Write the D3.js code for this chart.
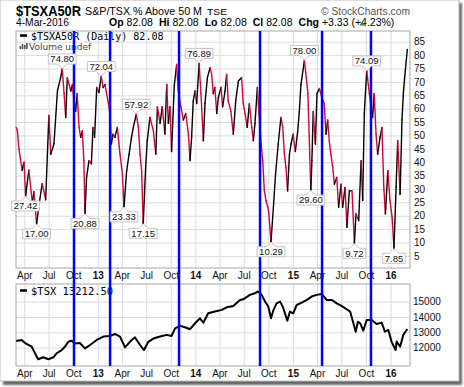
<!DOCTYPE html>
<html>
<head>
<meta charset="utf-8">
<script src="https://cdn.jsdelivr.net/npm/d3@7"></script>
<style>
  body { margin: 0; background: #fff; }
</style>
</head>
<body>
<svg id="chart"></svg>
<script>
// $TSXA50R daily readings (estimated from the chart)
const a50Dates = [
  "2012-03-02","2012-03-06","2012-03-12","2012-03-18","2012-03-24","2012-03-31","2012-04-06","2012-04-18",
  "2012-05-01","2012-05-07","2012-05-17","2012-05-26","2012-06-07","2012-06-20","2012-07-02","2012-07-09",
  "2012-07-21","2012-08-03","2012-08-15","2012-08-21","2012-08-28","2012-09-03","2012-09-09","2012-09-22",
  "2012-09-28","2012-10-04","2012-10-10","2012-10-16","2012-10-23","2012-10-29","2012-11-04","2012-11-10",
  "2012-11-14","2012-11-20","2012-11-29","2012-12-08","2012-12-14","2012-12-20","2012-12-28","2013-01-05",
  "2013-01-14","2013-01-21","2013-01-28","2013-02-03","2013-02-12","2013-02-16","2013-02-21","2013-02-27",
  "2013-03-06","2013-03-15","2013-03-25","2013-04-03","2013-04-09","2013-04-19","2013-04-28","2013-05-07",
  "2013-05-14","2013-05-25","2013-06-02","2013-06-08","2013-06-14","2013-06-20","2013-06-29","2013-07-05",
  "2013-07-15","2013-07-28","2013-08-06","2013-08-12","2013-08-22","2013-08-30","2013-09-09","2013-09-16",
  "2013-09-22","2013-09-28","2013-10-04","2013-10-14","2013-10-23","2013-10-29","2013-11-08","2013-11-17",
  "2013-11-26","2013-12-06","2013-12-12","2013-12-18","2013-12-24","2013-12-31","2014-01-06","2014-01-15",
  "2014-01-22","2014-01-31","2014-02-06","2014-02-15","2014-02-25","2014-03-03","2014-03-09","2014-03-15",
  "2014-03-22","2014-03-28","2014-04-07","2014-04-13","2014-04-22","2014-04-28","2014-05-04","2014-05-14",
  "2014-05-23","2014-06-01","2014-06-11","2014-06-23","2014-06-29","2014-07-06","2014-07-14","2014-07-22",
  "2014-07-31","2014-08-06","2014-08-12","2014-08-21","2014-08-27","2014-09-04","2014-09-10","2014-09-16",
  "2014-09-22","2014-09-29","2014-10-03","2014-10-11","2014-10-20","2014-10-28","2014-11-07","2014-11-17",
  "2014-11-24","2014-11-30","2014-12-06","2014-12-12","2014-12-19","2014-12-25","2015-01-02","2015-01-10",
  "2015-01-19","2015-01-25","2015-01-31","2015-02-13","2015-02-20","2015-02-26","2015-03-09","2015-03-13",
  "2015-03-18","2015-03-26","2015-04-01","2015-04-10","2015-04-19","2015-04-28","2015-05-05","2015-05-11",
  "2015-05-17","2015-05-23","2015-05-30","2015-06-05","2015-06-14","2015-06-21","2015-06-30","2015-07-06",
  "2015-07-15","2015-07-22","2015-07-31","2015-08-10","2015-08-19","2015-08-25","2015-09-04","2015-09-13",
  "2015-09-19","2015-09-25","2015-10-04","2015-10-14","2015-10-26","2015-11-01","2015-11-08","2015-11-14",
  "2015-11-23","2015-11-30","2015-12-07","2015-12-13","2015-12-22","2015-12-30","2016-01-07","2016-01-14",
  "2016-01-22","2016-01-28","2016-02-06","2016-02-13","2016-02-18","2016-02-23","2016-03-04"
];
const a50Values = [
  53, 52, 45, 41, 37, 40, 27.42, 37,
  25, 29, 17.00, 24, 32, 26, 57.5, 43,
  46.8, 66.6, 71.6, 74.80, 65.6, 56.7, 71.6, 66.6,
  69, 62.9, 59, 65.6, 53, 49.3, 51.7, 40.6,
  20.88, 34.3, 40.6, 39.4, 53, 49.3, 67.9, 66,
  72.04, 67.9, 69, 65.6, 60.7, 56.7, 46.8, 50.5,
  49.3, 53, 43, 35.6, 23.33, 36.8, 43, 49.3,
  53, 57.92, 53, 43, 36.8, 17.15, 38, 48,
  56.7, 51.7, 43, 60.7, 54.5, 60.7, 50.5, 69,
  54.5, 60.7, 44, 68.5, 76.5, 66.6, 60.7, 55.8,
  58.2, 50.5, 40.6, 49.3, 62.9, 66.6, 61.9, 76.89,
  65.6, 48, 61.9, 71.6, 75.3, 72.8, 65.6, 67.9,
  58.2, 64.2, 67.9, 60.7, 66.6, 72.8, 62.9, 59,
  50.5, 62.9, 70.3, 71.6, 61.9, 58.2, 53, 61.9,
  53, 48, 54.5, 67.9, 58.2, 46.8, 40.6, 29.5,
  25.7, 23.2, 20.7, 10.29, 23.2, 35.6, 46.8, 56.7,
  53, 43, 38, 29.3, 43, 46.8, 50.5, 44,
  51.7, 59, 69, 78.00, 71.6, 65.6, 29.60, 40.6,
  59, 46.8, 65.6, 67.5, 64.2, 61.9, 50.5, 55.8,
  48, 43, 38, 31.8, 34.3, 23.2, 31.8, 23.2,
  30.6, 15.7, 29.3, 29.3, 9.72, 20.7, 18.2, 40.6,
  25.7, 58.2, 74.09, 65.6, 56.7, 65.6, 50.5, 43,
  49.3, 53, 30.6, 20.7, 36.8, 25.7, 19.5, 7.85,
  30.6, 48, 28, 55.8, 65.6, 71.6, 82.08
];

// $TSX closes (estimated)
const tsxDates = [
  "2012-03-02","2012-03-22","2012-04-04","2012-04-29","2012-05-11","2012-05-23","2012-06-11","2012-06-30",
  "2012-07-19","2012-07-31","2012-08-19","2012-08-31","2012-09-13","2012-09-25","2012-10-08","2012-10-26",
  "2012-11-14","2012-12-03","2012-12-28","2013-01-22","2013-02-16","2013-03-06","2013-03-25","2013-04-13",
  "2013-05-01","2013-05-20","2013-06-08","2013-06-23","2013-07-09","2013-07-28","2013-08-22","2013-09-16",
  "2013-10-04","2013-10-17","2013-11-05","2013-11-23","2013-12-12","2013-12-31","2014-01-18","2014-01-31",
  "2014-02-18","2014-03-15","2014-04-10","2014-04-28","2014-05-23","2014-06-17","2014-06-29","2014-07-24",
  "2014-08-12","2014-08-24","2014-09-06","2014-09-19","2014-10-01","2014-10-11","2014-10-20","2014-11-01",
  "2014-11-14","2014-11-24","2014-12-02","2014-12-11","2014-12-21","2015-01-02","2015-01-15","2015-02-03",
  "2015-02-22","2015-03-12","2015-03-31","2015-04-19","2015-05-07","2015-05-26","2015-06-14","2015-07-02",
  "2015-07-21","2015-08-03","2015-08-24","2015-09-01","2015-09-10","2015-09-21","2015-10-04","2015-10-23",
  "2015-11-10","2015-11-29","2015-12-11","2015-12-24","2016-01-05","2016-01-20","2016-01-24","2016-02-06",
  "2016-02-18","2016-03-04"
];
const tsxValues = [
  12430, 12500, 12300, 12060, 11630, 11240, 11370, 11240,
  11370, 11630, 11840, 12060, 12380, 12450, 12270, 12300,
  11950, 12170, 12500, 12720, 12760, 12890, 12720, 12020,
  12380, 12670, 12170, 11840, 12380, 12590, 12720, 12830,
  12760, 13260, 13420, 13330, 13200, 13590, 13910, 13630,
  14240, 14350, 14460, 14630, 14720, 15110, 15150, 15440,
  15550, 15660, 15440, 15000, 14670, 13910, 14450, 14890,
  15000, 14670, 14240, 13760, 14350, 14240, 14780, 14930,
  15110, 15330, 15440, 15500, 15110, 15110, 14890, 14720,
  14500, 14350, 13040, 13690, 13580, 13110, 13800, 13800,
  13540, 13630, 13040, 13150, 12390, 11840, 12390, 12060,
  12830, 13212.50
];

// annotated highs and lows
const noteDates = [
  "2012-04-06","2012-05-17","2012-08-21","2012-11-14","2013-01-14","2013-04-09","2013-05-25","2013-06-20",
  "2014-01-15","2014-10-11","2015-02-13","2015-03-09","2015-08-19","2015-10-04","2016-01-14"
];
const noteSides = [
  "below","below","above","below","above","below","above","below",
  "above","below","above","below","below","above","below"
];

// blue marker lines
const markerDates = ["2012-10-04","2013-02-16","2013-11-01","2014-08-31","2015-04-20","2015-10-20"];

const a50Ticks = d3.range(5, 90, 5);
const tsxTicks = [12000, 13000, 14000, 15000];

const titleText = "$TSXA50R";
const subtitleText = "S&P/TSX % Above 50 M";
const exchangeText = "TSE";
const creditText = "\u00a9 StockCharts.com";
const dateText = "4-Mar-2016";
const quoteParts = [["Op", "82.08"], ["Hi", "82.08"], ["Lo", "82.08"], ["Cl", "82.08"], ["Chg", "+3.33 (+4.23%)"]];
const a50Legend = "$TSXA50R (Daily) 82.08";
const volumeLegend = "Volume undef";
const tsxLegend = "$TSX 13212.50";

const width = 464, height = 387;
const left = 16, right = 410;
const top1 = 31, bot1 = 268, top2 = 284, bot2 = 366;
const sans = "Arial, 'Liberation Sans', sans-serif";
const mono = "'DejaVu Sans Mono', monospace";

const parse = d3.utcParse("%Y-%m-%d");
const a50 = a50Dates.map((d, i) => ({date: parse(d), value: a50Values[i]}));
const tsx = tsxDates.map((d, i) => ({date: parse(d), value: tsxValues[i]}));

const x = d3.scaleUtc().domain([parse("2012-03-01"), parse("2016-03-14")]).range([left, right]);
const y1 = d3.scaleLinear().domain([0.5, 89]).range([bot1, top1]);
const y2 = d3.scaleLinear().domain([10800, 16150]).range([bot2, top2]);
const quarters = d3.utcMonth.every(3);
const fmtTick = d => d.getUTCMonth() === 0 ? d3.utcFormat("%y")(d) : d3.utcFormat("%b")(d);

const svg = d3.select("#chart")
    .attr("width", width)
    .attr("height", height)
    .attr("viewBox", [0, 0, width, height])
    .style("font-family", sans);

// page frame with shadow
const defs = svg.append("defs");
defs.append("filter").attr("id", "blur")
  .append("feGaussianBlur").attr("stdDeviation", 1.2);
svg.append("rect").attr("x", 3).attr("y", 3).attr("width", 459).attr("height", 382)
    .attr("fill", "#666").attr("filter", "url(#blur)");
svg.append("rect").attr("x", 0).attr("y", 0).attr("width", 459).attr("height", 381)
    .attr("fill", "#fff").attr("stroke", "#bbb");

// header
svg.append("text").attr("x", 16).attr("y", 15.5)
    .attr("font-size", 15).attr("font-weight", "bold")
    .attr("textLength", 65).attr("lengthAdjust", "spacingAndGlyphs")
    .text(titleText);
svg.append("text").attr("x", 85).attr("y", 14.5).attr("font-size", 11)
    .attr("textLength", 117).attr("lengthAdjust", "spacingAndGlyphs")
    .text(subtitleText);
svg.append("text").attr("x", 207).attr("y", 14.5).attr("font-size", 9.5)
    .attr("textLength", 20).attr("lengthAdjust", "spacingAndGlyphs")
    .text(exchangeText);
svg.append("text").attr("x", 321).attr("y", 14.5).attr("font-size", 11).attr("fill", "#555")
    .attr("textLength", 89).attr("lengthAdjust", "spacingAndGlyphs")
    .text(creditText);
svg.append("text").attr("x", 16).attr("y", 26).attr("font-size", 10)
    .attr("textLength", 53).attr("lengthAdjust", "spacingAndGlyphs")
    .text(dateText);

const quote = svg.append("text").attr("x", 109).attr("y", 26).attr("font-size", 10.5);
quoteParts.forEach(([k, v], i) => {
  quote.append("tspan").attr("dx", i ? 6 : 0).attr("font-weight", "bold").text(k);
  quote.append("tspan").attr("dx", 3).text(v);
});
const qEnd = 109 + quote.node().getComputedTextLength();
svg.append("path")
    .attr("d", `M${qEnd + 4},${25.5}L${qEnd + 10},${25.5}L${qEnd + 7},${21.5}Z`)
    .attr("fill", "#2e8b2e");

// grids
function vGrid(top, bottom) {
  svg.append("g")
      .attr("transform", `translate(0,${bottom})`)
      .call(d3.axisBottom(x).ticks(quarters).tickSize(-(bottom - top)).tickFormat(""))
      .call(g => g.select(".domain").remove())
      .call(g => g.selectAll(".tick line").attr("stroke", "#dcdcdc"));
}
function hGrid(yScale, ticks, pad) {
  svg.append("g")
      .attr("transform", `translate(${right},0)`)
      .call(d3.axisRight(yScale).tickValues(ticks).tickSize(-(right - left))
          .tickPadding(pad).tickFormat(d3.format("d")))
      .call(g => g.select(".domain").remove())
      .call(g => g.selectAll(".tick line").attr("stroke", "#dcdcdc"))
      .call(g => g.selectAll(".tick text")
          .attr("font-family", sans).attr("font-size", 10).attr("fill", "#111"));
}
vGrid(top1, bot1);
vGrid(top2, bot2);
hGrid(y1, a50Ticks, 4);
hGrid(y2, tsxTicks, 3);

// month labels
function xLabels(yPos) {
  svg.append("g")
      .attr("transform", `translate(0,${yPos})`)
      .call(d3.axisBottom(x).ticks(quarters).tickSize(0).tickPadding(0).tickFormat(fmtTick))
      .call(g => g.select(".domain").remove())
      .call(g => g.selectAll(".tick text")
          .attr("font-family", sans).attr("font-size", 10).attr("fill", "#111")
          .attr("font-weight", d => d.getUTCMonth() === 0 ? "bold" : null));
}
xLabels(272);
xLabels(369.5);

// panel borders
[[top1, bot1], [top2, bot2]].forEach(([t, b]) => {
  svg.append("rect")
      .attr("x", left).attr("y", t)
      .attr("width", right - left).attr("height", b - t)
      .attr("fill", "none").attr("stroke", "#a8a8a8");
});

// legends
svg.append("line").attr("x1", 20).attr("x2", 27).attr("y1", 35.5).attr("y2", 35.5)
    .attr("stroke", "#000").attr("stroke-width", 2.5);
svg.append("text").attr("x", 31).attr("y", 39.5)
    .attr("font-family", mono).attr("font-size", 10).text(a50Legend);
svg.append("g").selectAll("rect")
    .data([3, 5, 4, 6])
    .join("rect")
      .attr("x", (d, i) => 19.5 + i * 2.2).attr("y", d => 49 - d)
      .attr("width", 1.6).attr("height", d => d)
      .attr("fill", "#555");
svg.append("text").attr("x", 29).attr("y", 49.5)
    .attr("font-family", "'DejaVu Sans', sans-serif").attr("font-size", 9).attr("fill", "#444")
    .text(volumeLegend);
svg.append("line").attr("x1", 20).attr("x2", 27).attr("y1", 290.5).attr("y2", 290.5)
    .attr("stroke", "#000").attr("stroke-width", 2.5);
svg.append("text").attr("x", 31).attr("y", 294.5)
    .attr("font-family", mono).attr("font-size", 10.5).text(tsxLegend);

// $TSXA50R line: black on up moves, red on down moves
svg.append("g")
    .attr("stroke-width", 1.4)
    .attr("stroke-linecap", "round")
  .selectAll("line")
  .data(d3.pairs(a50))
  .join("line")
    .attr("x1", ([a]) => x(a.date)).attr("y1", ([a]) => y1(a.value))
    .attr("x2", ([, b]) => x(b.date)).attr("y2", ([, b]) => y1(b.value))
    .attr("stroke", ([a, b]) => b.value >= a.value ? "#000" : "#d4043a");

// $TSX line
svg.append("path")
    .datum(tsx)
    .attr("fill", "none")
    .attr("stroke", "#000")
    .attr("stroke-width", 2)
    .attr("stroke-linejoin", "round")
    .attr("d", d3.line().x(d => x(d.date)).y(d => y2(d.value)));

// blue marker lines
svg.append("g").selectAll("line")
  .data(markerDates.map(parse))
  .join("line")
    .attr("x1", d => x(d)).attr("x2", d => x(d))
    .attr("y1", top1).attr("y2", bot2)
    .attr("stroke", "#0000ff").attr("stroke-width", 2.5);

// high/low callouts
const byDate = new Map(a50.map(d => [+d.date, d.value]));
const notes = svg.append("g").attr("font-family", sans).attr("font-size", 9.5);
noteDates.forEach((ds, i) => {
  const dt = parse(ds);
  const v = byDate.get(+dt);
  const px = x(dt), py = y1(v);
  const above = noteSides[i] === "above";
  const label = v.toFixed(2);
  const t = notes.append("text").attr("text-anchor", "middle").attr("fill", "#111").text(label);
  const tw = t.node().getComputedTextLength();
  const bw = tw + 4, bh = 10;
  const bx = px - bw / 2;
  let d;
  if (above) {
    const by = py - 5 - bh;
    d = `M${bx},${by}H${bx + bw}V${by + bh}H${px + 5}L${px},${py - 0.5}L${px - 5},${by + bh}H${bx}Z`;
    t.attr("x", px).attr("y", by + bh - 1.6);
  } else {
    const by = py + 5;
    d = `M${bx},${by}H${px - 5}L${px},${py + 0.5}L${px + 5},${by}H${bx + bw}V${by + bh}H${bx}Z`;
    t.attr("x", px).attr("y", by + bh - 1.6);
  }
  notes.insert("path", "text").attr("d", d)
      .attr("fill", "#fff").attr("stroke", "#c4c4c4");
});
</script>
</body>
</html>
